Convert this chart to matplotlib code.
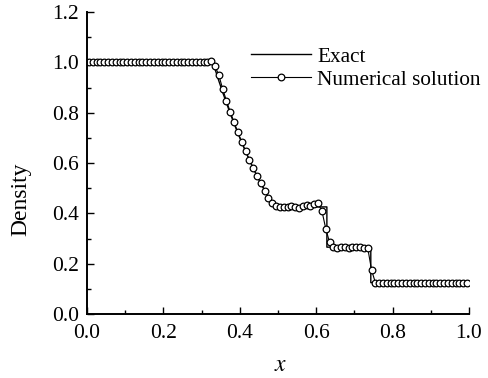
import numpy as np
import matplotlib
matplotlib.use("Agg")
import matplotlib.pyplot as plt
from matplotlib.ticker import MultipleLocator, FormatStrFormatter

plt.rcParams['font.family'] = ['Liberation Serif', 'DejaVu Serif']
plt.rcParams['mathtext.fontset'] = 'stix'

# exact solution
x_exact = [0.0, 0.33, 0.335, 0.345, 0.355, 0.365, 0.375, 0.385, 0.395, 0.405,
           0.415, 0.425, 0.435, 0.445, 0.455, 0.465, 0.475, 0.485, 0.49,
           0.628, 0.628, 0.743, 0.743, 1.0]
rho_exact = [1.0, 1.0, 0.974, 0.927, 0.882, 0.839, 0.797, 0.757, 0.719, 0.682,
             0.647, 0.613, 0.580, 0.549, 0.520, 0.492, 0.464, 0.439, 0.426,
             0.426, 0.266, 0.266, 0.125, 0.125]

# numerical solution (cell centres)
x_num = [0.005 + 0.01 * i for i in range(100)]
rho_num = [1.0] * 31 + [
    1.002, 1.006, 0.985, 0.950, 0.895, 0.848, 0.803, 0.762, 0.722, 0.684,
    0.648, 0.613, 0.581, 0.550, 0.520, 0.491, 0.463, 0.440, 0.428, 0.425,
    0.427, 0.425, 0.428, 0.426, 0.420, 0.430, 0.433, 0.430, 0.437, 0.440,
    0.410, 0.340, 0.285, 0.266, 0.264, 0.265, 0.266, 0.264, 0.266, 0.265,
    0.266, 0.264, 0.262, 0.175, 0.125, 0.124, 0.125, 0.125, 0.125, 0.125,
    0.125, 0.125, 0.125, 0.125, 0.125, 0.125, 0.125, 0.125, 0.125, 0.125,
    0.125, 0.125, 0.125, 0.125, 0.125, 0.125, 0.125, 0.125, 0.125]

fig = plt.figure(figsize=(4.89, 3.78), dpi=100)
ax = fig.add_axes([0.178, 0.169, 0.781, 0.799])

ax.plot(x_exact, rho_exact, color='black', lw=1.0, label='Exact')
ax.plot(x_num, rho_num, color='black', lw=0.8, marker='o', ms=4.8,
        mfc='white', mec='black', mew=0.9, label='Numerical solution')

ax.set_xlim(0.0, 1.0)
ax.set_ylim(0.0, 1.2)
ax.xaxis.set_major_locator(MultipleLocator(0.2))
ax.xaxis.set_minor_locator(MultipleLocator(0.1))
ax.yaxis.set_major_locator(MultipleLocator(0.2))
ax.yaxis.set_minor_locator(MultipleLocator(0.1))
ax.xaxis.set_major_formatter(FormatStrFormatter('%.1f'))
ax.yaxis.set_major_formatter(FormatStrFormatter('%.1f'))
ax.tick_params(which='both', direction='in', labelsize=15.5, width=1.0)
ax.tick_params(which='major', length=5)
ax.tick_params(axis='x', which='major', pad=7)
ax.tick_params(axis='y', which='major', pad=6)
ax.tick_params(which='minor', length=3)
ax.spines['top'].set_visible(False)
ax.spines['right'].set_visible(False)
ax.spines['left'].set_linewidth(1.4)
ax.spines['bottom'].set_linewidth(1.4)

ax.set_xlabel('$x$', fontsize=17)
ax.xaxis.set_label_coords(0.506, -0.135)
ax.set_ylabel('Density', fontsize=17)
ax.yaxis.set_label_coords(-0.145, 0.38)

ax.legend(loc='upper left', bbox_to_anchor=(0.43, 0.885), frameon=False,
          fontsize=15.3, handlelength=2.8, handletextpad=0.3,
          labelspacing=0.15, borderpad=0, borderaxespad=0)

fig.savefig('out.png', dpi=100)
